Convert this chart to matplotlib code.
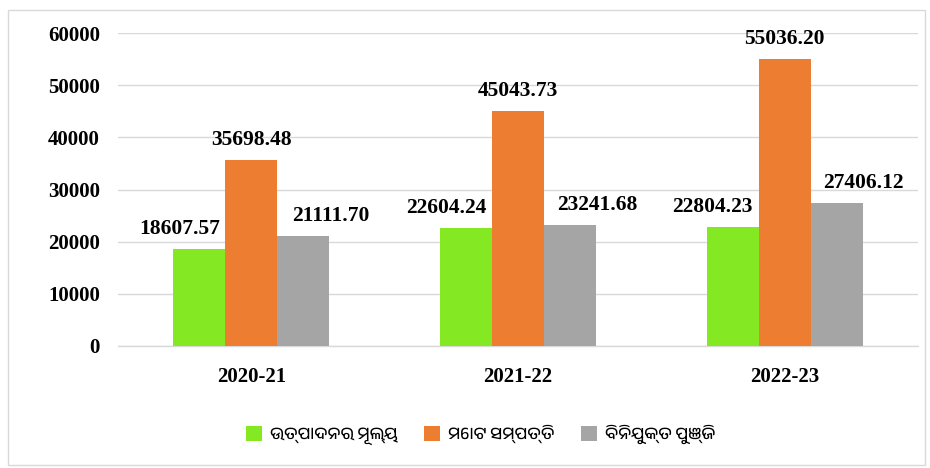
import matplotlib
matplotlib.use("Agg")
import matplotlib.pyplot as plt
from matplotlib import font_manager
from matplotlib.patches import Rectangle
import numpy as np

years = ["2020-21", "2021-22", "2022-23"]
series_names = ["ଉତ୍ପାଦନର ମୂଲ୍ୟ", "ମୋଟ ସମ୍ପତ୍ତି", "ବିନିଯୁକ୍ତ ପୁଞ୍ଜି"]
utpadan = [18607.57, 22604.24, 22804.23]
sampatti = [35698.48, 45043.73, 55036.20]
punji = [21111.70, 23241.68, 27406.12]
colors = ["#84E823", "#ED7D31", "#A5A5A5"]
yticks = [0, 10000, 20000, 30000, 40000, 50000, 60000]
# labels in the original are nudged sideways so they don't collide (pixels)
label_shift = [-20, 0, 27]

# odia font if something on the system has it
odia = [f.name for f in font_manager.fontManager.ttflist
        if "oriya" in f.name.lower() or "odia" in f.name.lower()]
legend_family = odia[:1] + ["DejaVu Sans"]

serif = ["Liberation Serif", "DejaVu Serif"]

fig = plt.figure(figsize=(9.3, 4.68), dpi=100)
ax = fig.add_axes([0.127, 0.261, 0.86, 0.668])

x = np.arange(len(years))
w = 0.195
bars = []
for i, vals in enumerate([utpadan, sampatti, punji]):
    b = ax.bar(x + (i - 1) * w, vals, w, color=colors[i], label=series_names[i], zorder=3)
    bars.append(b)
    for xi, v in zip(x + (i - 1) * w, vals):
        ax.annotate("%.2f" % v, xy=(xi, v), xytext=(label_shift[i], 15),
                    textcoords="offset pixels", ha="center", va="baseline",
                    fontsize=15.5, fontweight="bold", family=serif, zorder=5)

ax.set_xlim(-0.5, 2.5)
ax.set_ylim(0, 60000)
ax.set_yticks(yticks)
ax.set_yticklabels([str(t) for t in yticks], fontsize=15, fontweight="bold", family=serif)
ax.set_xticks(x)
ax.set_xticklabels(years, fontsize=15, fontweight="bold", family=serif)
ax.tick_params(length=0)
ax.tick_params(axis="x", pad=15)
ax.tick_params(axis="y", pad=13)
ax.grid(axis="y", color="#D9D9D9", linewidth=1, zorder=0)
for s in ["left", "right", "top"]:
    ax.spines[s].set_visible(False)
ax.spines["bottom"].set_color("#D9D9D9")
ax.spines["bottom"].set_linewidth(1)

leg = fig.legend(handles=bars, labels=series_names, loc="center", bbox_to_anchor=(0.517, 0.07),
                 ncol=3, frameon=False, handlelength=0.95, handleheight=0.95,
                 columnspacing=1.6, handletextpad=0.5,
                 prop={"family": legend_family, "size": 12})

fig.patches.append(Rectangle((8 / 930, 3 / 468), 917 / 930, 455 / 468, transform=fig.transFigure,
                             fill=False, edgecolor="#D9D9D9", linewidth=1))

fig.savefig("out.png", dpi=100)
